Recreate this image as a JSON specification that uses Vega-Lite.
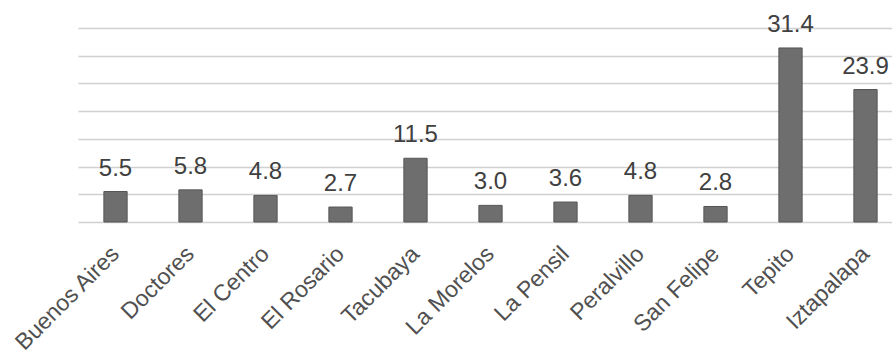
{
  "$schema": "https://vega.github.io/schema/vega-lite/v6.json",
  "autosize": "none",
  "width": 814,
  "height": 194,
  "padding": {"left": 78, "top": 28, "right": 0, "bottom": 132},
  "background": "white",
  "config": {
    "view": {"stroke": null},
    "font": "Liberation Sans"
  },
  "data": {
    "values": [
      {"lugar": "Buenos Aires", "valor": 5.5},
      {"lugar": "Doctores", "valor": 5.8},
      {"lugar": "El Centro", "valor": 4.8},
      {"lugar": "El Rosario", "valor": 2.7},
      {"lugar": "Tacubaya", "valor": 11.5},
      {"lugar": "La Morelos", "valor": 3.0},
      {"lugar": "La Pensil", "valor": 3.6},
      {"lugar": "Peralvillo", "valor": 4.8},
      {"lugar": "San Felipe", "valor": 2.8},
      {"lugar": "Tepito", "valor": 31.4},
      {"lugar": "Iztapalapa", "valor": 23.9}
    ]
  },
  "encoding": {
    "x": {
      "field": "lugar",
      "type": "nominal",
      "sort": null,
      "scale": {"range": [0, 825], "paddingInner": 0.69, "paddingOuter": 0.345},
      "axis": {
        "title": null,
        "domain": false,
        "ticks": false,
        "labelAngle": -45,
        "labelAlign": "right",
        "labelBaseline": "middle",
        "labelPadding": 28,
        "labelFontSize": 23,
        "labelColor": "#505050",
        "labelFont": "Liberation Sans"
      }
    },
    "y": {
      "field": "valor",
      "type": "quantitative",
      "scale": {"domain": [0, 35], "nice": false},
      "axis": {
        "title": null,
        "labels": false,
        "ticks": false,
        "domain": false,
        "values": [0, 5, 10, 15, 20, 25, 30, 35],
        "gridColor": "#d0d0d0",
        "gridWidth": 1.5
      }
    }
  },
  "layer": [
    {
      "mark": {"type": "bar", "color": "#6e6e6e", "stroke": "#555555", "strokeWidth": 1}
    },
    {
      "mark": {"type": "text", "baseline": "alphabetic", "dy": -16, "fontSize": 24, "color": "#404040", "font": "Liberation Sans"},
      "encoding": {
        "text": {"field": "valor", "type": "quantitative", "format": ".1f"}
      }
    }
  ]
}
